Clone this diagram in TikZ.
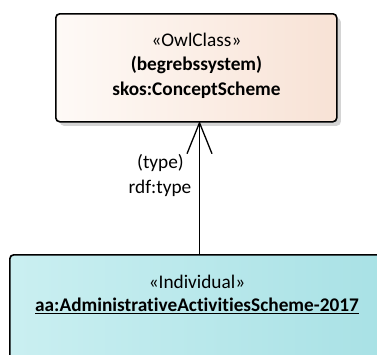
\documentclass[tikz,border=0pt]{standalone}
\usepackage{fontspec}
\setmainfont{Carlito}[Ligatures=NoCommon]
\usetikzlibrary{arrows.meta,shadows}
\definecolor{classL}{HTML}{FEFAF7}
\definecolor{classR}{HTML}{F8E2D5}
\definecolor{indL}{HTML}{CAEFF1}
\definecolor{indR}{HTML}{A8E1E5}
\definecolor{shade}{HTML}{D4D4D4}
\tikzset{
  umlbox/.style={draw=black, line width=1.6pt, rounded corners=4pt,
    minimum width=#1, inner sep=0pt},
  owlclass/.style={umlbox=281pt, minimum height=108pt,
    left color=classL, right color=classR,
    drop shadow={shadow xshift=4pt, shadow yshift=-4pt, fill=shade, opacity=1}},
  individual/.style={umlbox=380pt, minimum height=104pt,
    left color=indL, right color=indR},
  txt/.style={font=\fontsize{19.3}{25}\selectfont, align=center, inner sep=0pt},
  rel/.style={line width=1.3pt, -{Straight Barb[length=31pt, width=25pt, line width=1.3pt]}},
}
\begin{document}
\begin{tikzpicture}[x=1pt, y=-1pt]
  \useasboundingbox (0,0) rectangle (377,354);
  % OWL class box
  \node[owlclass, anchor=north west] (cls) at (55,13) {};
  \node[txt] (clsst) at (196.5,40) {«OwlClass»};
  \node[txt] (clsnm) at (196.5,65) {\bfseries (begrebssystem)};
  \node[txt] (clsq) at (196.5,90) {\bfseries skos:ConceptScheme};
  % individual box (runs past the frame)
  \node[individual, anchor=north west] (ind) at (9,254) {};
  \node[txt] (indst) at (197,282) {«Individual»};
  \node[txt] (indnm) at (197,306) {\bfseries\underline{aa:AdministrativeActivitiesScheme-2017}};
  % rdf:type relation
  \coordinate (src) at (199.5,254);
  \coordinate (dst) at (199.5,121);
  \draw[rel] (src) -- (dst);
  \node[txt] (lbl1) at (160.5,163) {(type)};
  \node[txt] (lbl2) at (160,188) {rdf:type};
\end{tikzpicture}
\end{document}
